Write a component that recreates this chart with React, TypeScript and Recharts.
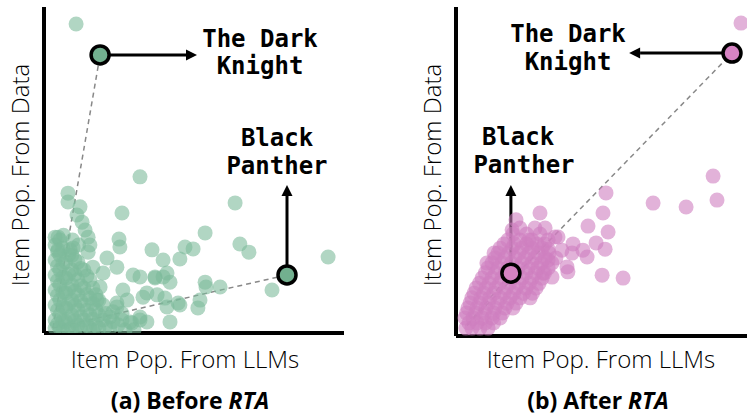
import { ReferenceLine, Scatter, ScatterChart, XAxis, YAxis } from "recharts";

type Pt = [number, number];

// (a) Before RTA — x: popularity from LLMs, y: popularity from data
const beforePoints: Pt[] = [
  [10.7, 94.8], [32, 47.9], [8, 42.9], [8, 40.2], [11, 36.2], [12, 38.7], [12.7, 34],
  [13.7, 31.6], [14.7, 29.4], [15.3, 27], [14.7, 24.8], [26, 36.8], [63.7, 39.9],
  [53.7, 30.7], [25, 28.8], [25.3, 26.4], [36, 25.5], [47, 26.4], [49.7, 25.8],
  [65.3, 27.3], [68.3, 24.8], [94.7, 23.3], [21, 23], [39.7, 22.4], [45.3, 22.7],
  [19.7, 18.4], [24.3, 20.2], [29.7, 17.8], [32, 17.2], [37, 17.2], [41, 18.4],
  [42, 15.6], [53.7, 15.6], [54, 14.1], [58.7, 14.1], [76, 13.2], [26.3, 13.2],
  [27.7, 10.1], [34.3, 12.3], [37.7, 11.7], [52, 10.1], [51.3, 7.7], [41, 8],
  [45.3, 8.6], [42, 3.4], [32, 4], [29.3, 3.1], [24.3, 8], [22, 4.9], [18.7, 14.1],
  [17.7, 10.1], [16.3, 20.2], [4.7, 29.4], [4.7, 25.5], [32, 4.9], [33, 11],
  [40.3, 10.7], [44.7, 9.2], [28.7, 3.4], [34.3, 3.4], [24.3, 9.2], [37, 16.9],
  [39.7, 17.2], [9.7, 26.1], [8.7, 25.5], [3.7, 29.4], [6.5, 30], [9.5, 28.5], [11.5, 27],
  [3.7, 27], [3.7, 22.4], [3.7, 17.8], [3.7, 13.2], [3.7, 8.6], [3.7, 4], [3.7, 1.5],
  [4.5, 25], [4.5, 20.5], [4.5, 16], [4.5, 11.5], [4.5, 7], [4.5, 2.7],
  [5.3, 28.5], [5.3, 23.9], [5.3, 19.3], [5.3, 14.7], [5.3, 10.1], [5.3, 5.5], [5.3, 1.5],
  [6.3, 26], [6.3, 21.2], [6.3, 17], [6.3, 12.5], [6.3, 8], [6.3, 3.6], [6.3, 0.8],
  [7.3, 21.8], [7.3, 16.9], [7.3, 12.3], [7.3, 7.7], [7.3, 3.4],
  [8.3, 24], [8.3, 18], [8.3, 13.5], [8.3, 9], [8.3, 4.4], [8.3, 1],
  [9.3, 23.9], [9.3, 19.3], [9.3, 14.7], [9.3, 10.1], [9.3, 5.5], [9.3, 1.5],
  [10.3, 22.5], [10.3, 18], [10.3, 12.8], [10.3, 8.4], [10.3, 3.8], [10.3, 0.8],
  [11.3, 21.8], [11.3, 16.3], [11.3, 11.7], [11.3, 7.1], [11.3, 2.5],
  [12.3, 19.8], [12.3, 14.5], [12.3, 9.8], [12.3, 5], [12.3, 1.2],
  [13.3, 19.3], [13.3, 13.8], [13.3, 8.6], [13.3, 4],
  [14.3, 17.5], [14.3, 11.8], [14.3, 7], [14.3, 2.5],
  [15.3, 16.3], [15.3, 10.7], [15.3, 5.5], [15.3, 1.5],
  [16.3, 13.8], [16.3, 9], [16.3, 4.2], [16.3, 0.8],
  [17.3, 11.7], [17.3, 7.1], [17.3, 2.5],
  [18.3, 10], [18.3, 5.5], [18.3, 1.5],
  [19.7, 8.6], [19.7, 4], [20.5, 6], [20.5, 2], [22, 1.5], [23, 3.5], [23, 6.5],
  [24.7, 2.5], [26, 4], [26, 6], [27, 0.9], [30, 1],
];

// (b) After RTA
const afterPoints: Pt[] = [
  [95, 95.1], [85.7, 48.6], [87, 41.3], [65.7, 40.4], [76.7, 39.2],
  [50, 43.5], [49, 37.4], [50.7, 31.6], [44, 33.4], [46.7, 28.3], [49.7, 26.4],
  [39, 28], [42.3, 26.1], [43.7, 24], [33, 30.1], [34, 30.1], [28, 37.4],
  [30.7, 26.4], [35.3, 26.1], [38.7, 25.2], [30.7, 23.1], [37, 21], [37.3, 19.5],
  [48.7, 18.5], [55.7, 17.6], [32, 17.9], [29, 19.1],
  [20, 35.3], [18.7, 32.2], [24.3, 29.2], [12.7, 25.2], [10.3, 22.2],
  [3.3, 2.4], [5.3, 2.4], [8, 2.4], [10.7, 2.4],
  [4.3, 4], [7, 4], [9.8, 4], [12.5, 4],
  [3, 5.5], [5.7, 5.5], [8.7, 5.5], [12, 5.5], [14.7, 5.5],
  [3.5, 7], [6.5, 7], [9.5, 7], [12.5, 7], [15.5, 7],
  [4, 8.5], [7, 8.5], [10, 8.5], [13, 8.5], [16.3, 8.5], [19, 8.5],
  [4.7, 10], [7.8, 10], [10.8, 10], [13.8, 10], [17, 10], [20, 10],
  [5.3, 11.6], [8.3, 11.6], [11.3, 11.6], [14.7, 11.6], [18, 11.6], [21.3, 11.6], [24.7, 11.6],
  [6, 13], [9.2, 13], [12.6, 13], [16, 13], [19.2, 13], [22.5, 13], [25.5, 13],
  [6.7, 14.6], [10, 14.6], [13.3, 14.6], [16.7, 14.6], [20, 14.6], [23.3, 14.6], [26.7, 14.6],
  [7.8, 16], [11, 16], [14.5, 16], [17.8, 16], [21, 16], [24.5, 16], [27.7, 16],
  [8.7, 17.6], [12, 17.6], [15.3, 17.6], [18.7, 17.6], [22, 17.6], [25.3, 17.6], [28.7, 17.6],
  [9.8, 19.2], [13.2, 19.2], [16.5, 19.2], [20, 19.2], [23.3, 19.2], [26.5, 19.2], [29.5, 19.2],
  [10.7, 20.7], [14, 20.7], [17.3, 20.7], [20.7, 20.7], [24, 20.7], [27.3, 20.7], [30.7, 20.7],
  [12, 22.2], [15.3, 22.2], [18.5, 22.2], [22, 22.2], [25.3, 22.2], [28.5, 22.2], [32, 22.2],
  [13, 23.7], [16.3, 23.7], [19.7, 23.7], [23, 23.7], [26.3, 23.7], [29.7, 23.7], [33.3, 23.7],
  [14, 25.2], [17.5, 25.2], [21, 25.2], [24.3, 25.2], [27.5, 25.2], [31, 25.2],
  [14.7, 26.7], [18.7, 26.7], [22, 26.7], [25.3, 26.7], [28.7, 26.7],
  [16, 28], [19.5, 28], [23.5, 28], [27, 28], [29.5, 28],
  [17.3, 29.2], [21.3, 29.2], [25.3, 29.2], [30.7, 29.2],
  [19, 31], [23.5, 31], [28, 31],
  [21.3, 32.8], [26.3, 32.8], [29.7, 32.8],
];

const beforeOrigin: Pt = [3, 1.5];
const beforeDarkKnight: Pt = [18.7, 85.3];
const beforeBlackPanther: Pt = [81, 17.8];
const beforeDarkKnightArrow: Pt = [51, 85.3];
const beforeBlackPantherArrow: Pt = [81, 45.4];

const afterOrigin: Pt = [3.7, 3.3];
const afterDarkKnight: Pt = [92, 86];
const afterBlackPanther: Pt = [18.3, 19.1];
const afterDarkKnightArrow: Pt = [57.7, 86];
const afterBlackPantherArrow: Pt = [18.3, 45.9];

const toRows = (pts: Pt[]) => pts.map(([x, y]) => ({ x, y }));
const seg = (a: Pt, b: Pt) => [
  { x: a[0], y: a[1] },
  { x: b[0], y: b[1] },
];

function ArrowShape(props: any) {
  const { x1, y1, x2, y2 } = props;
  if ([x1, y1, x2, y2].some((v) => typeof v !== "number" || Number.isNaN(v))) return null;
  const a = Math.atan2(y2 - y1, x2 - x1);
  const head = 11;
  const half = 5.5;
  const bx = x2 - head * Math.cos(a);
  const by = y2 - head * Math.sin(a);
  const px = -Math.sin(a) * half;
  const py = Math.cos(a) * half;
  return (
    <g>
      <line x1={x1} y1={y1} x2={bx} y2={by} stroke="#000" strokeWidth={3} />
      <polygon points={`${x2},${y2} ${bx + px},${by + py} ${bx - px},${by - py}`} fill="#000" />
    </g>
  );
}

type PanelProps = {
  points: Pt[];
  origin: Pt;
  darkKnight: Pt;
  blackPanther: Pt;
  dkArrow: Pt;
  bpArrow: Pt;
  color: string;
  highlight: string;
  left: number;
  bottom: number;
};

function Panel({ points, origin, darkKnight, blackPanther, dkArrow, bpArrow, color, highlight, left, bottom }: PanelProps) {
  return (
    <div style={{ position: "absolute", left, top: 0 }}>
      <ScatterChart width={360} height={345} margin={{ top: 7, left: 44, right: 16, bottom }}>
        <XAxis type="number" dataKey="x" domain={[0, 100]} hide allowDataOverflow />
        <YAxis type="number" dataKey="y" domain={[0, 100]} hide allowDataOverflow />
        <Scatter
          data={toRows(points)}
          isAnimationActive={false}
          shape={(p: any) => <circle cx={p.cx} cy={p.cy} r={7.5} fill={color} fillOpacity={0.6} />}
        />
        <ReferenceLine segment={seg(origin, darkKnight)} stroke="#888" strokeWidth={1.5} strokeDasharray="5 4" />
        <ReferenceLine segment={seg(origin, blackPanther)} stroke="#888" strokeWidth={1.5} strokeDasharray="5 4" />
        <ReferenceLine segment={seg(darkKnight, dkArrow)} shape={ArrowShape} />
        <ReferenceLine segment={seg(blackPanther, bpArrow)} shape={ArrowShape} />
        <ReferenceLine x={0} stroke="#000" strokeWidth={4} />
        <ReferenceLine y={0} stroke="#000" strokeWidth={4} />
        <Scatter
          data={toRows([darkKnight, blackPanther])}
          isAnimationActive={false}
          shape={(p: any) => (
            <circle cx={p.cx} cy={p.cy} r={9} fill={highlight} stroke="#000" strokeWidth={3.5} />
          )}
        />
      </ScatterChart>
    </div>
  );
}

const labelFont = "'Open Sans', sans-serif";
const monoFont = "'DejaVu Sans Mono', monospace";

export default function App() {
  return (
    <div
      style={{
        position: "absolute",
        left: 0,
        top: 0,
        width: 747,
        height: 417,
        overflow: "hidden",
        background: "#fff",
      }}
    >
      <Panel
        points={beforePoints}
        origin={beforeOrigin}
        darkKnight={beforeDarkKnight}
        blackPanther={beforeBlackPanther}
        dkArrow={beforeDarkKnightArrow}
        bpArrow={beforeBlackPantherArrow}
        color="#7dbb9b"
        highlight="#72b08f"
        left={0}
        bottom={12}
      />
      <Panel
        points={afterPoints}
        origin={afterOrigin}
        darkKnight={afterDarkKnight}
        blackPanther={afterBlackPanther}
        dkArrow={afterDarkKnightArrow}
        bpArrow={afterBlackPantherArrow}
        color="#cf7fbf"
        highlight="#d683c3"
        left={412}
        bottom={9}
      />
      <svg width={747} height={417} style={{ position: "absolute", left: 0, top: 0, pointerEvents: "none" }}>
        <g fontFamily={monoFont} fontWeight="bold" fontSize={24} textAnchor="middle" fill="#000">
          <text x={260} y={47}>The Dark</text>
          <text x={260} y={74}>Knight</text>
          <text x={277} y={146}>Black</text>
          <text x={277} y={174}>Panther</text>
          <text x={568} y={42}>The Dark</text>
          <text x={568} y={70}>Knight</text>
          <text x={518} y={145}>Black</text>
          <text x={524} y={173}>Panther</text>
        </g>
        <g fontFamily={labelFont} fontWeight={300} fontSize={24} textAnchor="middle" fill="#000">
          <text transform="translate(29,175) rotate(-90)">Item Pop. From Data</text>
          <text transform="translate(441,175) rotate(-90)">Item Pop. From Data</text>
          <text x={185} y={368}>Item Pop. From LLMs</text>
          <text x={601} y={368}>Item Pop. From LLMs</text>
        </g>
        <g fontFamily={labelFont} fontWeight={700} fontSize={23} textAnchor="middle" fill="#000">
          <text x={190} y={409}>
            (a) Before <tspan fontStyle="italic">RTA</tspan>
          </text>
          <text x={598} y={409}>
            (b) After <tspan fontStyle="italic">RTA</tspan>
          </text>
        </g>
      </svg>
    </div>
  );
}
